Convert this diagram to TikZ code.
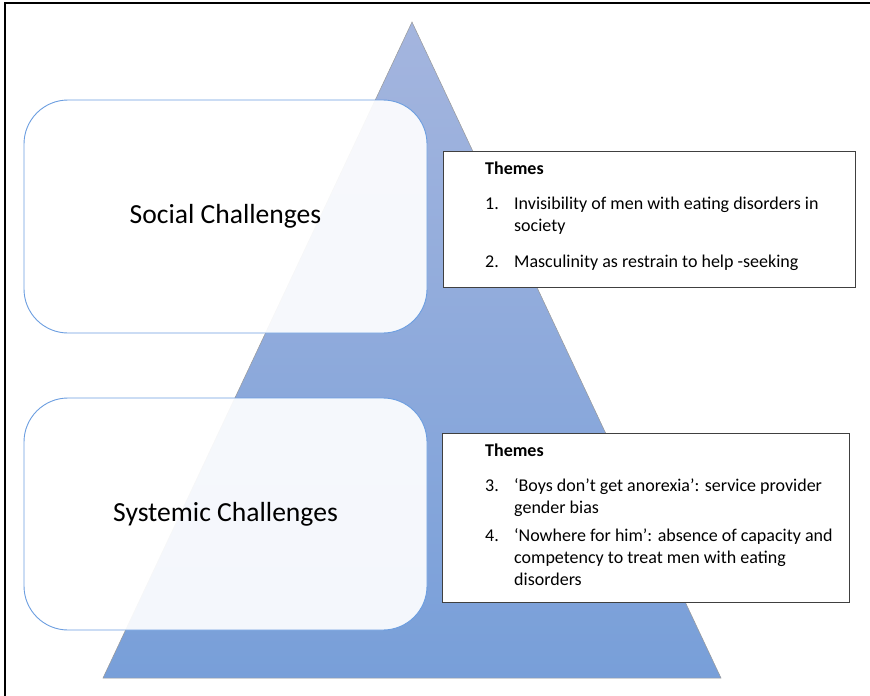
\documentclass[tikz,border=0pt]{standalone}
\usepackage{fontspec}
\setmainfont{Carlito}
\usetikzlibrary{positioning}

\definecolor{challengeblue}{HTML}{6C9EE0}
\definecolor{pyrtop}{HTML}{A4B5DE}
\definecolor{pyrbottom}{HTML}{789FD9}

\newcommand{\itemno}[1]{\makebox[29pt][l]{#1}}
\newcommand{\contline}{\hspace*{29pt}}

\tikzset{
  challenge/.style={draw=challengeblue, line width=0.9pt, fill=white, fill opacity=0.92,
    text opacity=1, rounded corners=44pt, minimum width=403pt,
    font=\fontsize{27.6}{32}\selectfont},
  themebox/.style={draw=black!75, line width=1.2pt, fill=white, anchor=north west},
  themetext/.style={inner sep=0pt, anchor=north west, align=left,
    font=\fontsize{18}{22}\selectfont}
}

\begin{document}
\begin{tikzpicture}[x=1pt,y=-1pt]
\useasboundingbox (0,0) rectangle (870,696);

\draw[line width=1.6pt] (5,696) -- (5,3) -- (870,3);

% pyramid
\draw[top color=pyrtop, bottom color=pyrbottom, draw=gray!80, line width=0.5pt]
  (412,22) -- (721,678) -- (103,678) -- cycle;

\node [challenge, minimum height=233pt] (social) at (225.5,216.5) {Social Challenges};
\node [challenge, minimum height=232pt] (systemic) at (225.5,514) {Systemic Challenges};

\node [themebox, minimum width=412pt, minimum height=136pt] (socialbox) at (443,151) {};
\node [themetext] (socialthemes) at ([xshift=42pt,yshift=-11pt]socialbox.north west) {%
  \textbf{Themes}\\[13pt]
  \itemno{1.}Invisibility of men with eating disorders in\\
  \contline society\\[14pt]
  \itemno{2.}Masculinity as restrain to help -seeking};

\node [themebox, minimum width=407pt, minimum height=169pt] (systemicbox) at (442,433) {};
\node [themetext] (systemicthemes) at ([xshift=43pt,yshift=-11pt]systemicbox.north west) {%
  \textbf{Themes}\\[13pt]
  \itemno{3.}‘Boys don’t get anorexia’: service provider\\
  \contline gender bias\\[6pt]
  \itemno{4.}‘Nowhere for him’: absence of capacity and\\
  \contline competency to treat men with eating\\
  \contline disorders};
\end{tikzpicture}
\end{document}
